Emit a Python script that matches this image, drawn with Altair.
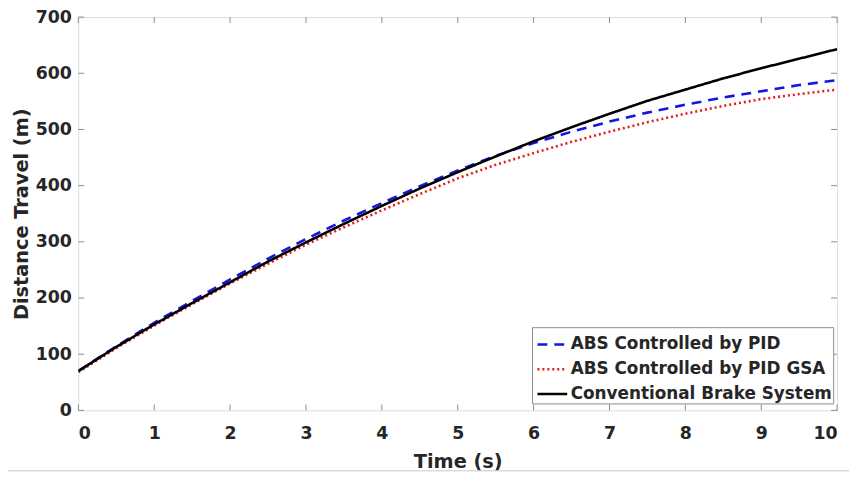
import altair as alt
import pandas as pd

time_s = [0, 0.5, 1, 1.5, 2, 2.5, 3, 3.5, 4, 4.5, 5, 5.5, 6, 6.5, 7, 7.5, 8, 8.5, 9, 9.5, 10]
abs_pid = [70, 114, 156, 195, 233, 270, 305, 338, 369, 399, 427, 453, 476, 496, 514, 530, 544, 557, 568, 579, 588]
abs_pid_gsa = [68, 111, 151, 189, 226, 261, 295, 326, 356, 385, 413, 437, 458, 478, 496, 513, 528, 542, 554, 563, 571]
conventional = [70, 113, 153, 191, 228, 265, 299, 332, 364, 395, 424, 452, 479, 504, 528, 551, 571, 591, 609, 626, 643]

series_names = ["ABS Controlled by PID", "ABS Controlled by PID GSA", "Conventional Brake System"]
series_colors = ["#1515e6", "#e61a1a", "#000000"]
series_dash = [[10, 7], [2, 3], [1, 0]]

x_ticks = [0, 1, 2, 3, 4, 5, 6, 7, 8, 9, 10]
y_ticks = [0, 100, 200, 300, 400, 500, 600, 700]

W, H = 766, 397
FONT = "DejaVu Sans"
TXT = "#262626"
AX = "#8c8c8c"

rows = []
for name, vals in zip(series_names, [abs_pid, abs_pid_gsa, conventional]):
    for t, v in zip(time_s, vals):
        rows.append({"t": t, "d": v, "series": name})
df = pd.DataFrame(rows)

xs = alt.Scale(domain=[0, 10], nice=False)
ys = alt.Scale(domain=[0, 700], nice=False)

legend = alt.Legend(title=None, orient="none", legendX=458, legendY=313,
                    symbolType="stroke", symbolSize=900, symbolStrokeWidth=2.6, symbolOffset=3,
                    labelFont=FONT, labelFontSize=17, labelFontWeight="bold",
                    labelColor=TXT, labelOffset=2, labelLimit=400, rowPadding=-2,
                    padding=1, fillColor="white", strokeColor=AX)

lines = alt.Chart(df).mark_line(strokeWidth=2.6, clip=True).encode(
    x=alt.X("t:Q", scale=xs, axis=alt.Axis(
        title="Time (s)", values=x_ticks, format="d", tickSize=0, domain=False, grid=False,
        labelFont=FONT, labelFontSize=17.5, labelFontWeight="bold", labelColor=TXT, labelPadding=14,
        titleFont=FONT, titleFontSize=19.5, titleFontWeight="bold", titleColor=TXT, titlePadding=11)),
    y=alt.Y("d:Q", scale=ys, axis=alt.Axis(
        title="Distance Travel (m)", values=y_ticks, format="d", tickSize=0, domain=False, grid=False,
        labelFont=FONT, labelFontSize=17.5, labelFontWeight="bold", labelColor=TXT, labelPadding=7,
        titleFont=FONT, titleFontSize=19.5, titleFontWeight="bold", titleColor=TXT, titlePadding=4)),
    color=alt.Color("series:N", scale=alt.Scale(domain=series_names, range=series_colors),
                    sort=series_names, legend=legend),
    strokeDash=alt.StrokeDash("series:N", scale=alt.Scale(domain=series_names, range=series_dash),
                              sort=series_names, legend=legend),
)

xt = pd.DataFrame({"v": x_ticks})
yt = pd.DataFrame({"v": y_ticks})
x_bot = alt.Chart(xt).mark_rule(color=AX, strokeWidth=1).encode(
    x=alt.X("v:Q", scale=xs), y=alt.value(H), y2=alt.value(H - 6))
x_top = alt.Chart(xt).mark_rule(color=AX, strokeWidth=1).encode(
    x=alt.X("v:Q", scale=xs), y=alt.value(0), y2=alt.value(6))
y_left = alt.Chart(yt).mark_rule(color=AX, strokeWidth=1).encode(
    y=alt.Y("v:Q", scale=ys), x=alt.value(0), x2=alt.value(6))
y_right = alt.Chart(yt).mark_rule(color=AX, strokeWidth=1).encode(
    y=alt.Y("v:Q", scale=ys), x=alt.value(W), x2=alt.value(W - 6))
sep = alt.Chart(pd.DataFrame({"a": [0]})).mark_rule(color="#c8c8c8", strokeWidth=1).encode(
    x=alt.value(-80), x2=alt.value(W + 20), y=alt.value(458))

chart = alt.layer(x_bot, x_top, y_left, y_right, lines, sep).properties(
    width=W, height=H,
    autosize=alt.AutoSizeParams(type="none"),
    padding={"left": 71, "top": 7, "right": 12, "bottom": 60},
).configure_view(stroke=AX, strokeWidth=1).configure(background="white")

chart.save("out.html", embed_options={"renderer": "svg", "actions": False})
